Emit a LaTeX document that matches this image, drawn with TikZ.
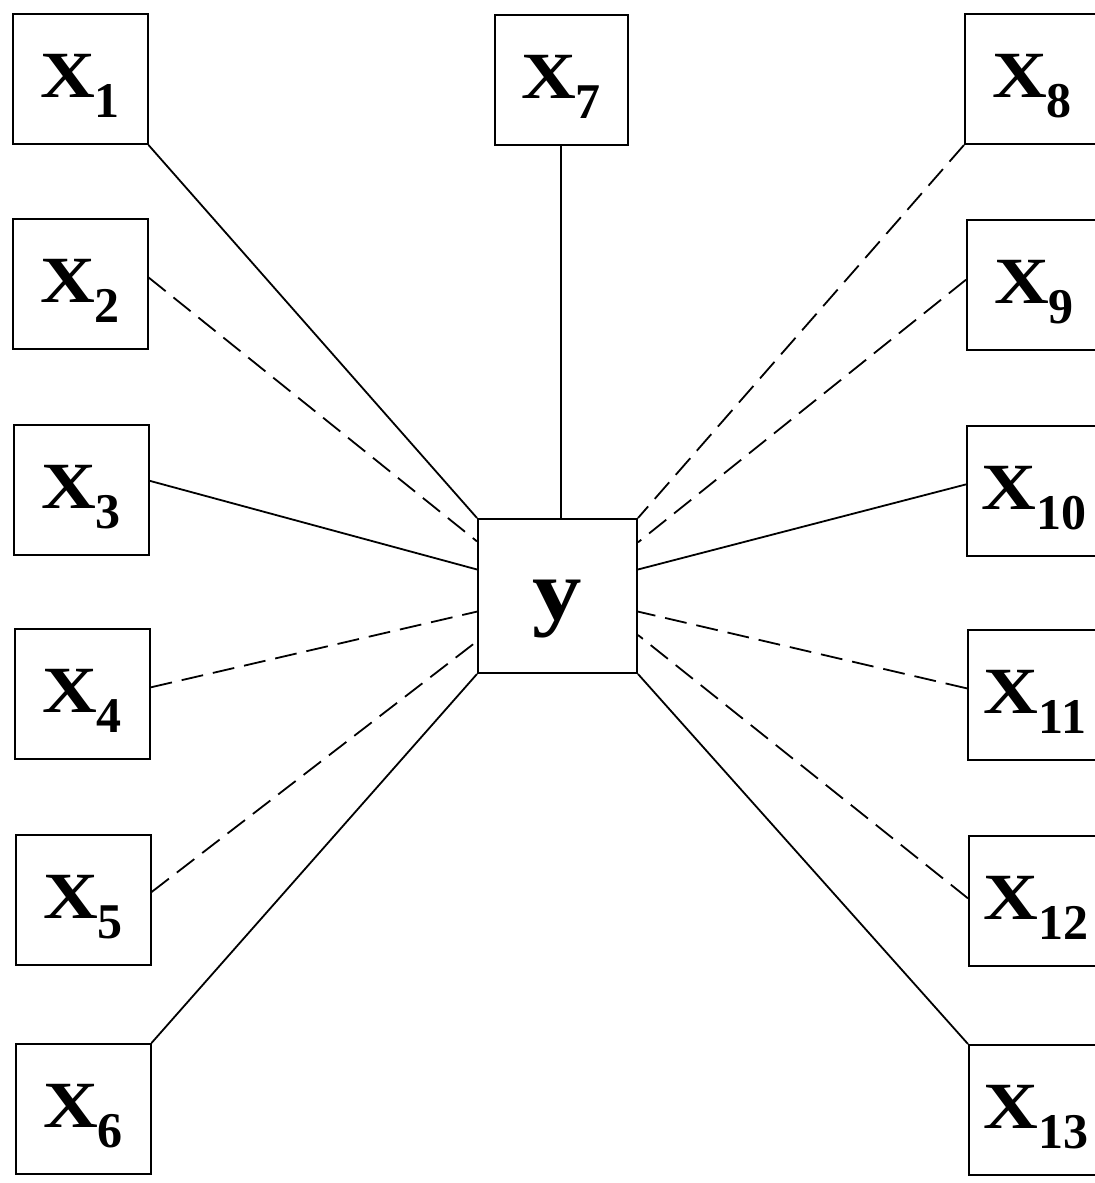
\documentclass[tikz,border=0pt]{standalone}
\usepackage{fontspec}
\newfontfamily\xf[FakeStretch=1.15]{Liberation Serif}
\newfontfamily\xsubf{Liberation Serif}
\usetikzlibrary{calc}
\newcommand\xlab[1]{\fontsize{33}{33}\selectfont\bfseries X\raisebox{-10pt}{\xsubf\fontsize{25}{25}\selectfont\bfseries #1}}
\tikzset{
  xbox/.style={draw, line width=1pt, minimum width=67.5pt, minimum height=65pt, inner sep=0pt,
    text height=28pt, text depth=10pt, font=\xf},
  ybox/.style={draw, line width=1pt, minimum width=79.5pt, minimum height=77pt, inner sep=0pt,
    text height=32pt, text depth=9pt, font=\xf},
  link/.style={line width=0.9pt},
  dlink/.style={line width=0.9pt, dash pattern=on 11pt off 5pt},
}
\begin{document}
\begin{tikzpicture}[x=0.5pt, y=-0.5pt]
\useasboundingbox (0,0) rectangle (1095,1183);
% left column
\node[xbox] (x1) at (80,79)   {\xlab{1}};
\node[xbox] (x2) at (80,284)  {\xlab{2}};
\node[xbox] (x3) at (81,490)  {\xlab{3}};
\node[xbox] (x4) at (82,694)  {\xlab{4}};
\node[xbox] (x5) at (83,900)  {\xlab{5}};
\node[xbox] (x6) at (83,1109) {\xlab{6}};
% top middle
\node[xbox, minimum width=66.5pt] (x7) at (561,80) {\xlab{7}};
% right column
\node[xbox, minimum width=67pt] (x8)  at (1032,79)  {\xlab{8}};
\node[xbox, minimum width=67pt] (x9)  at (1034,285) {\xlab{9}};
\node[xbox, minimum width=67pt] (x10) at (1034,491) {\xlab{10}};
\node[xbox, minimum width=67pt] (x11) at (1035,695) {\xlab{11}};
\node[xbox, minimum width=67pt] (x12) at (1036,901) {\xlab{12}};
\node[xbox, minimum width=67pt] (x13) at (1036,1110) {\xlab{13}};
% centre
\node[ybox] (y) at (557.5,596) {\fontsize{43}{43}\selectfont\bfseries y};
% connectors, left
\draw[link]  (x1.south east) -- (y.north west);
\draw[dlink] ($(x2.north east)!0.45!(x2.south east)$) -- ($(y.north west)!0.15!(y.south west)$);
\draw[link]  ($(x3.north east)!0.43!(x3.south east)$) -- ($(y.north west)!0.33!(y.south west)$);
\draw[dlink] ($(x4.north east)!0.45!(x4.south east)$) -- ($(y.north west)!0.60!(y.south west)$);
\draw[dlink] ($(x5.north east)!0.44!(x5.south east)$) -- ($(y.north west)!0.79!(y.south west)$);
\draw[link]  (x6.north east) -- (y.south west);
% top
\draw[link]  (x7.south) -- (x7.south |- y.north);
% connectors, right
\draw[dlink] (x8.south west) -- (y.north east);
\draw[dlink] ($(x9.north west)!0.46!(x9.south west)$) -- ($(y.north east)!0.156!(y.south east)$);
\draw[link]  ($(x10.north west)!0.45!(x10.south west)$) -- ($(y.north east)!0.33!(y.south east)$);
\draw[dlink] ($(x11.north west)!0.45!(x11.south west)$) -- ($(y.north east)!0.60!(y.south east)$);
\draw[dlink] ($(x12.north west)!0.48!(x12.south west)$) -- ($(y.north east)!0.75!(y.south east)$);
\draw[link]  (x13.north west) -- (y.south east);
\end{tikzpicture}
\end{document}
